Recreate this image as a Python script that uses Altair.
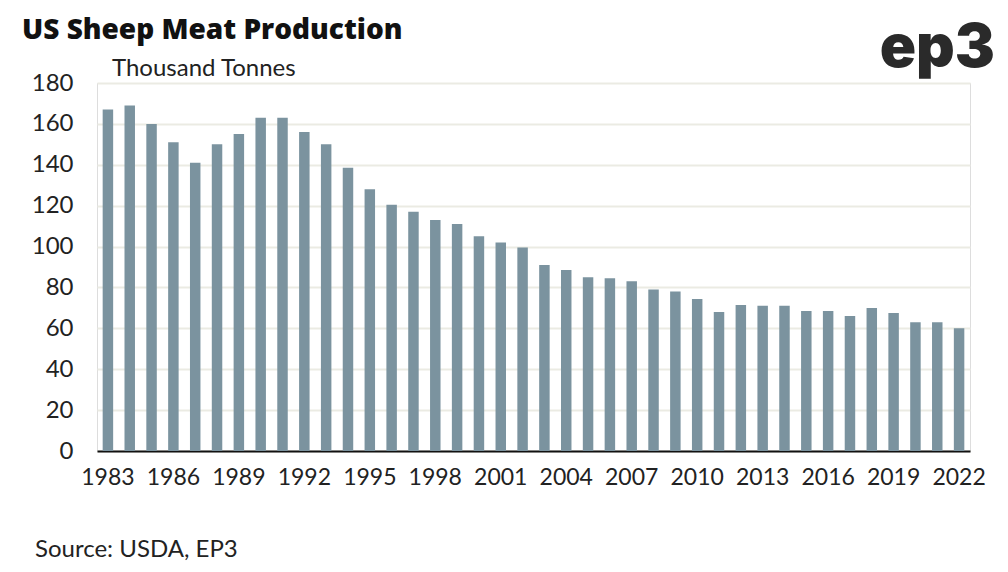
import altair as alt
import pandas as pd

years = list(range(1983, 2023))
production = [167, 169, 160, 151, 141, 150, 155, 163, 163, 156,
              150, 138.5, 128, 120.5, 117, 113, 111, 105, 102, 99.5,
              91, 88.5, 85, 84.5, 83, 79, 78, 74.3, 68, 71.4,
              71, 71, 68.5, 68.5, 66, 70, 67.5, 63, 63, 60]
label_years = [str(y) for y in range(1983, 2023, 3)]

df = pd.DataFrame({"year": [str(y) for y in years], "value": production})

FONT = "Lato"
W, H = 873, 368

bars = alt.Chart(df).mark_bar(color="#7b939f").encode(
    x=alt.X("year:N", sort=None, title=None,
            scale=alt.Scale(paddingInner=0.52, paddingOuter=0.26),
            axis=alt.Axis(values=label_years, labelAngle=0, labelFontSize=23,
                          labelFont=FONT, labelColor="#222222", labelPadding=15,
                          ticks=False, domainColor="#111111", domainWidth=2,
                          grid=False)),
    y=alt.Y("value:Q", title=None,
            scale=alt.Scale(domain=[0, 180], nice=False),
            axis=alt.Axis(values=list(range(0, 181, 20)), labelFontSize=24,
                          labelFont=FONT, labelColor="#222222", labelPadding=24,
                          ticks=False, domain=False, gridColor="#ebebe3",
                          gridWidth=2)),
)

one = pd.DataFrame({"a": [0]})

title = alt.Chart(one).mark_text(
    text="US Sheep Meat Production", font="Open Sans", fontSize=28, fontWeight=800,
    color="#111111", align="left", baseline="alphabetic"
).encode(x=alt.value(-75), y=alt.value(-44))

unit = alt.Chart(one).mark_text(
    text="Thousand Tonnes", font=FONT, fontSize=24, color="#222222",
    align="left", baseline="alphabetic"
).encode(x=alt.value(15), y=alt.value(-7))

logo = alt.Chart(one).mark_text(
    text="ep3", font="Inter", fontSize=60, fontWeight=900, color="#2a2a2a",
    align="right", baseline="alphabetic"
).encode(x=alt.value(898), y=alt.value(-16))

source = alt.Chart(one).mark_text(
    text="Source: USDA, EP3", font=FONT, fontSize=24, color="#222222",
    align="left", baseline="alphabetic"
).encode(x=alt.value(-62), y=alt.value(474))

chart = alt.layer(bars, title, unit, logo, source).properties(
    width=W, height=H,
    autosize=alt.AutoSizeParams(type="none"),
    padding={"left": 89, "top": 75, "right": 30, "bottom": 110},
).configure_view(stroke=None).configure(background="white")

chart.save("out.html", embed_options={"renderer": "svg", "actions": False})
